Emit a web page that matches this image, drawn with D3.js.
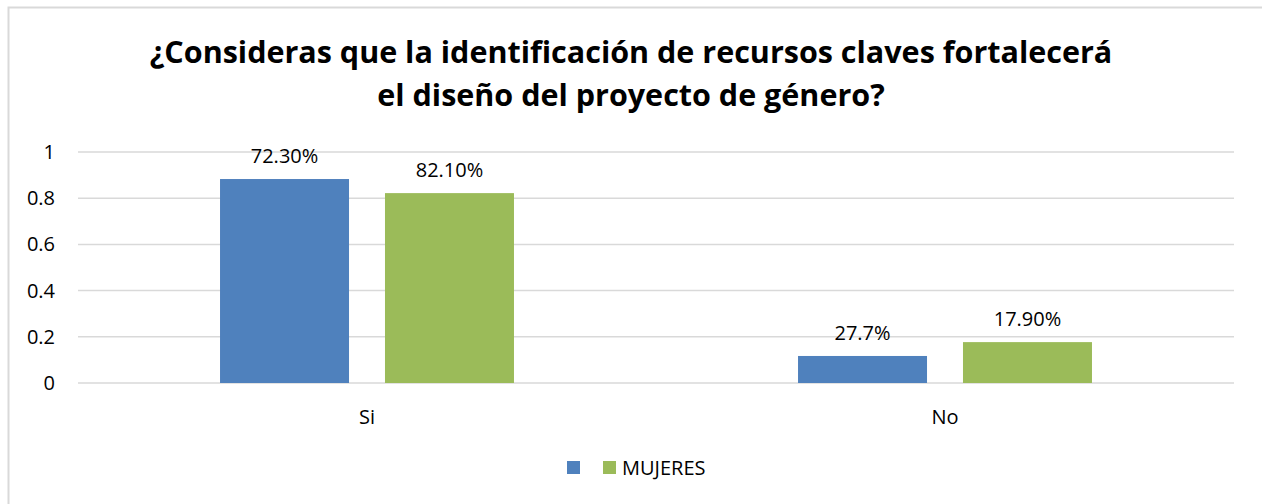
<!DOCTYPE html>
<html lang="es">
<head>
<meta charset="UTF-8">
<title>Recursos claves</title>
<style>
  body { margin: 0; background: #fff; }
  text { font-family: "Open Sans", "Noto Sans", sans-serif; fill: #000; }
  .grid line { stroke: #d9d9d9; stroke-width: 1.5px; }
</style>
</head>
<body>
<script src="https://cdn.jsdelivr.net/npm/d3@7"></script>
<script>
const categories = ['Si', 'No'];
const seriesNames = ['HOMBRES', 'MUJERES'];
const legendLabels = ['', 'MUJERES'];
const valuesBlue = [0.883, 0.117];
const valuesGreen = [0.822, 0.177];
const labelsBlue = ['72.30%', '27.7%'];
const labelsGreen = ['82.10%', '17.90%'];
const yTicks = [0, 0.2, 0.4, 0.6, 0.8, 1];
const titleLines = ['¿Consideras que la identificación de recursos claves fortalecerá',
                    'el diseño del proyecto de género?'];

const W = 1262, H = 504;
const colors = ['#4f81bd', '#9bbb59'];
const plot = { left: 78, right: 1234, top: 152, bottom: 383 };
const fontSize = 20;

const svg = d3.select('body').append('svg')
  .attr('width', W).attr('height', H);

// chart frame (only top and left edges visible)
svg.append('path')
  .attr('d', `M8.5,${H} V7.5 H${W}`)
  .attr('fill', 'none').attr('stroke', '#d9d9d9').attr('stroke-width', 2);

// title
const title = svg.append('g');
titleLines.forEach((t, i) => {
  title.append('text')
    .attr('x', 631).attr('y', 63 + i * 43)
    .attr('text-anchor', 'middle')
    .style('font-weight', 'bold')
    .style('font-size', '28px')
    .text(t);
});
// fit first line to reference width
const t0 = title.select('text').node();
const w0 = t0.getComputedTextLength();
const fs = 28 * 963 / w0;
title.selectAll('text').style('font-size', fs + 'px');

const x = d3.scaleBand().domain(categories).range([plot.left, plot.right]);
const inner = d3.scaleBand().domain(seriesNames)
  .range([0, x.bandwidth()]).paddingInner(0.218).paddingOuter(0.861);
const y = d3.scaleLinear().domain([0, 1]).range([plot.bottom, plot.top]);

// grid
svg.append('g').attr('class', 'grid')
  .selectAll('line').data(yTicks).join('line')
  .attr('x1', plot.left).attr('x2', plot.right)
  .attr('y1', d => y(d)).attr('y2', d => y(d));

// y axis labels
svg.append('g').selectAll('text').data(yTicks).join('text')
  .attr('x', 55).attr('y', d => y(d))
  .attr('dy', '0.35em').attr('text-anchor', 'end')
  .style('font-size', fontSize + 'px')
  .text(d => d3.format('')(d));

// bars
const series = [
  { name: seriesNames[0], values: valuesBlue, labels: labelsBlue, color: colors[0] },
  { name: seriesNames[1], values: valuesGreen, labels: labelsGreen, color: colors[1] }
];
series.forEach(s => {
  const g = svg.append('g');
  g.selectAll('rect').data(categories).join('rect')
    .attr('x', (c) => x(c) + inner(s.name))
    .attr('width', inner.bandwidth())
    .attr('y', (c, i) => y(s.values[i]))
    .attr('height', (c, i) => y(0) - y(s.values[i]))
    .attr('fill', s.color);
  g.selectAll('text').data(categories).join('text')
    .attr('x', c => x(c) + inner(s.name) + inner.bandwidth() / 2)
    .attr('y', (c, i) => y(s.values[i]) - 16)
    .attr('text-anchor', 'middle')
    .style('font-size', fontSize + 'px')
    .text((c, i) => s.labels[i]);
});

// x axis labels
svg.append('g').selectAll('text').data(categories).join('text')
  .attr('x', c => x(c) + x.bandwidth() / 2)
  .attr('y', 417).attr('dy', '0.35em')
  .attr('text-anchor', 'middle')
  .style('font-size', fontSize + 'px')
  .text(c => c);

// legend
const legend = svg.append('g');
const legendX = [567, 603];
series.forEach((s, i) => {
  legend.append('rect')
    .attr('x', legendX[i]).attr('y', 461)
    .attr('width', 13).attr('height', 13)
    .attr('fill', s.color);
  if (legendLabels[i]) {
    legend.append('text')
      .attr('x', legendX[i] + 19).attr('y', 468)
      .attr('dy', '0.35em')
      .style('font-size', fontSize + 'px')
      .text(legendLabels[i]);
  }
});
</script>
</body>
</html>
